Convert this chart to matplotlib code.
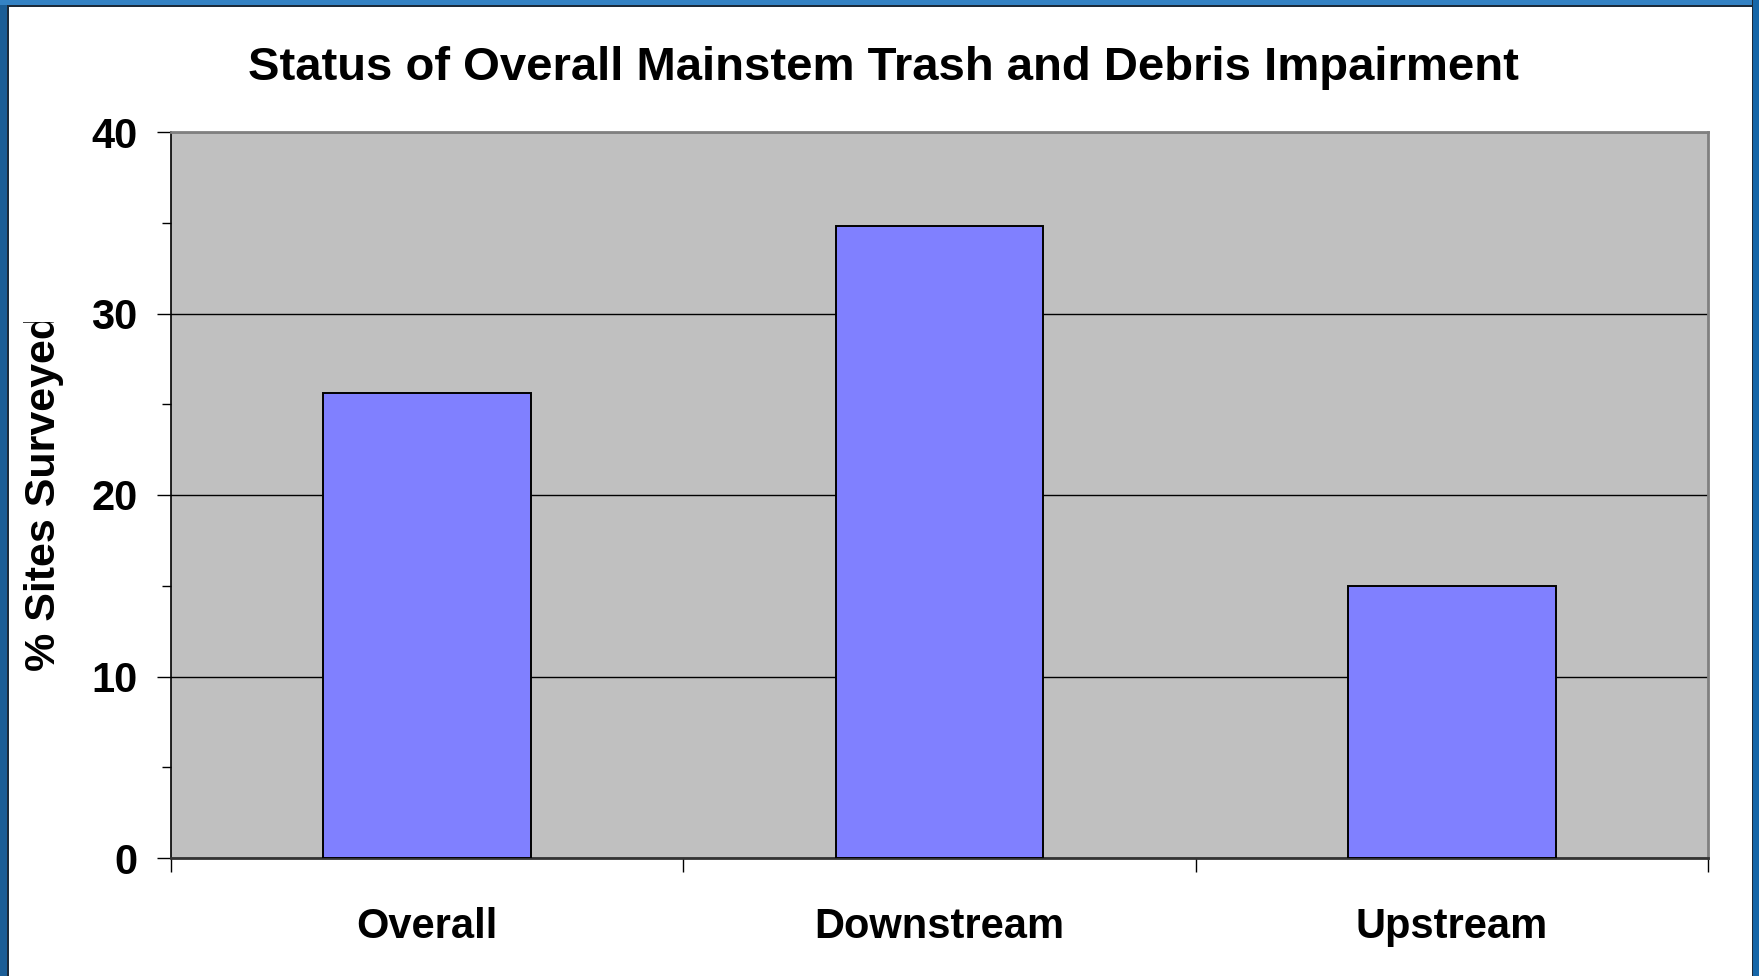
import matplotlib
matplotlib.use("Agg")
import matplotlib.pyplot as plt
from matplotlib.patches import Rectangle
from matplotlib.ticker import MultipleLocator, FixedLocator, NullFormatter

plt.rcParams['font.family'] = ['Liberation Sans', 'DejaVu Sans']
plt.rcParams['font.weight'] = 'bold'

categories = ['Overall', 'Downstream', 'Upstream']
values = [25.6, 34.8, 15.0]
title = 'Status of Overall Mainstem Trash and Debris Impairment'
ylabel = '% Sites Surveyed'

fig = plt.figure(figsize=(17.59, 9.76), dpi=100)
fig.patch.set_facecolor('white')

# blue slide frame
fig.patches.append(Rectangle((0, 0), 7/1759, 1, transform=fig.transFigure,
                             facecolor='#1b5d96', edgecolor='none', zorder=0))
fig.patches.append(Rectangle((7/1759, 0), 1.5/1759, 1, transform=fig.transFigure,
                             facecolor='#1c2a3a', edgecolor='none', zorder=0))
fig.patches.append(Rectangle((0, 1 - 5/976), 1, 5/976, transform=fig.transFigure,
                             facecolor='#3482c4', edgecolor='none', zorder=0))
fig.patches.append(Rectangle((7/1759, 1 - 6.5/976), 1 - 13/1759, 1.5/976, transform=fig.transFigure,
                             facecolor='#1c2a3a', edgecolor='none', zorder=0))
fig.patches.append(Rectangle((1 - 6/1759, 0), 6/1759, 1, transform=fig.transFigure,
                             facecolor='#1666a8', edgecolor='none', zorder=0))
fig.patches.append(Rectangle((1 - 7.5/1759, 0), 1.5/1759, 1, transform=fig.transFigure,
                             facecolor='#1c2a3a', edgecolor='none', zorder=0))

ax = fig.add_axes([171/1759, 118/976, (1708-171)/1759, (858-132)/976])
ax.set_facecolor('#c0c0c0')

x = list(range(len(categories)))
ax.bar(x, values, width=0.405, color='#8080ff', edgecolor='black', linewidth=1.4, zorder=3)

ax.set_xlim(-0.5, len(categories) - 0.5)
ax.set_ylim(0, 40)

ax.yaxis.set_major_locator(MultipleLocator(10))
ax.yaxis.set_minor_locator(MultipleLocator(5))
ax.tick_params(axis='y', which='major', length=10, width=1, labelsize=30, pad=14, color='black')
ax.tick_params(axis='y', which='minor', length=6.5, width=1, color='black')

ax.xaxis.set_major_locator(FixedLocator([-0.5 + i for i in range(len(categories) + 1)]))
ax.xaxis.set_major_formatter(NullFormatter())
ax.xaxis.set_minor_locator(FixedLocator(x))
ax.set_xticklabels(categories, minor=True)
ax.tick_params(axis='x', which='major', length=10, width=1, color='black')
ax.tick_params(axis='x', which='minor', length=0, labelsize=30, pad=35)

ax.grid(axis='y', which='major', color='black', linewidth=1, zorder=1)
ax.set_axisbelow(True)

for side in ['top', 'right']:
    ax.spines[side].set_color('#808080')
    ax.spines[side].set_linewidth(2)
ax.spines['left'].set_color('black')
ax.spines['left'].set_linewidth(1.2)
ax.spines['bottom'].set_color('#333333')
ax.spines['bottom'].set_linewidth(2)

fig.text(883/1759, 1 - 68/976, title, ha='center', va='center', fontsize=34, fontweight='bold')

yl = fig.text(44/1759, 1 - 671/976, ylabel, rotation=90, ha='center', va='bottom',
              fontsize=31, fontweight='bold', zorder=5)
# the original slide cuts the y label off at the top
fig.patches.append(Rectangle((9/1759, 1 - 322/976), 66/1759, 60/976, transform=fig.transFigure,
                             facecolor='white', edgecolor='none', zorder=10))

fig.savefig('out.png', dpi=100, facecolor=fig.get_facecolor())
